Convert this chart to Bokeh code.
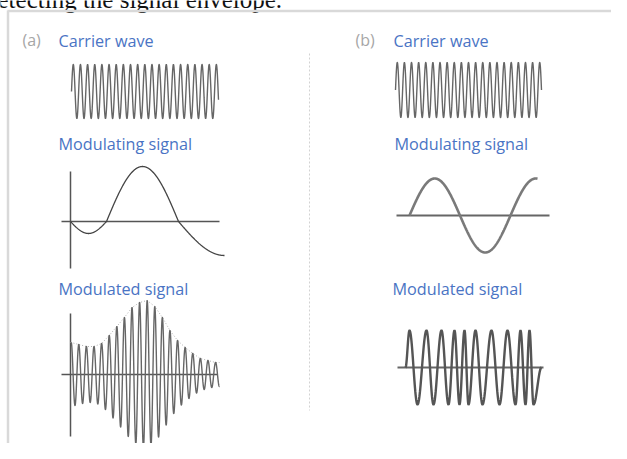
import numpy as np
from bokeh.plotting import figure
from bokeh.models import Range1d
from bokeh.core.properties import value
from bokeh.embed import file_html
from bokeh.resources import INLINE

# ---------------- data ----------------
header_text = "detecting the signal envelope."
panel_labels = ["(a)", "(b)"]
titles = ["Carrier wave", "Modulating signal", "Modulated signal"]

# carrier waves (number of cycles over the drawn span, amplitude in px)
carrier_cycles = [20.55, 20.5]
carrier_amp = [27, 27.5]

# modulating signal (a): zero crossings and half-wave amplitudes
mod_a_crossings = [70, 106, 178, 270]
mod_a_amps = [-12, 55, -34]
mod_a_end = 224

# modulated signal (a): envelope height at each carrier peak
env_a = [32, 30, 28, 28, 31, 39, 48, 57, 67, 72, 74, 68, 57, 44, 34, 27, 21, 16, 14, 12]
env_a_spacing = 7.6

# modulating signal (b): sine
mod_b_amp = 37
mod_b_period = 101

# modulated signal (b): FM extrema positions (peak, trough, peak, ...)
fm_extrema = [409, 417, 426, 433, 441, 448, 454, 459, 464, 468,
              475, 482, 491, 499, 507, 515, 520, 525, 529, 533]
fm_amp = 37

# ---------------- layout / styles ----------------
W, H = 611, 443
BLUE = "#4a74c4"
WAVE = "#666666"
AXIS = "#555555"
FONT = "Open Sans"

p = figure(width=W, height=H, output_backend="svg", toolbar_location=None,
           x_range=Range1d(0, W), y_range=Range1d(H, 0),
           min_border=0)
p.axis.visible = False
p.grid.visible = False
p.outline_line_color = None
p.background_fill_color = "white"

# header (cropped at the top)
p.text(x=[-15.5], y=[-1], text=[header_text], text_font=value("Liberation Serif"),
       text_font_size="25px", text_color="#111111", text_baseline="alphabetic")

# frame
p.line([7, W], [10.5, 10.5], line_color="#d9d9d9", line_width=2.5)
p.line([7.5, 7.5], [10, H], line_color="#d9d9d9", line_width=2.5)

# divider
p.line([309, 309], [53, 410], line_color="#d2d2d2", line_width=1, line_dash="2 2")

# texts
label_x = [22, 355]
title_x = [[58, 58, 58], [393, 394, 392]]
title_y = [40, 143, 288]
for i in range(2):
    p.text(x=[label_x[i]], y=[39], text=[panel_labels[i]], text_font=value(FONT),
           text_font_size="16px", text_color="#a6a6a6", text_baseline="middle")
    for j in range(3):
        p.text(x=[title_x[i][j]], y=[title_y[j]], text=[titles[j]],
               text_font=value(FONT), text_font_size="16.2px", text_color=BLUE,
               text_baseline="middle")

# carrier waves
carrier_span = [(71, 218, 91), (395, 541, 89.5)]
for i, (x0, x1, cy) in enumerate(carrier_span):
    xs = np.linspace(x0, x1, 2000)
    ph = (xs - x0) / (x1 - x0) * carrier_cycles[i] * 2 * np.pi
    p.line(xs, cy - carrier_amp[i] * np.sin(ph), line_color=WAVE, line_width=1.4)

# ---- (a) modulating signal
p.line([70, 70], [171, 268], line_color=AXIS, line_width=1.5)
p.line([61, 219], [221, 221], line_color=AXIS, line_width=1.5)
xs = np.linspace(mod_a_crossings[0], mod_a_end, 600)
ys = np.zeros_like(xs)
for k in range(len(mod_a_amps)):
    a, b = mod_a_crossings[k], mod_a_crossings[k + 1]
    m = (xs >= a) & (xs <= b)
    ys[m] = mod_a_amps[k] * np.sin(np.pi * (xs[m] - a) / (b - a))
p.line(xs, 221 - ys, line_color="#444444", line_width=1.3)

# ---- (a) modulated signal
p.line([70, 70], [313, 436], line_color=AXIS, line_width=1.5)
p.line([61, 217], [374, 374], line_color=AXIS, line_width=1.5)
peak_x = 70.7 + env_a_spacing * np.arange(len(env_a))
p.line(np.r_[70, peak_x, 219], 374 - np.r_[env_a[0], env_a, env_a[-1]],
       line_color="#b0b0b0", line_width=1, line_dash="1 2")
xs = np.linspace(70.7, 219, 3000)
env = np.interp(xs, peak_x, env_a)
p.line(xs, 374 - env * np.cos(2 * np.pi * (xs - 70.7) / env_a_spacing),
       line_color=WAVE, line_width=1.4)

# ---- (b) modulating signal
p.line([396, 549], [215, 215], line_color="#666666", line_width=2.2)
xs = np.linspace(409, 537, 500)
p.line(xs, 215 - mod_b_amp * np.sin(2 * np.pi * (xs - 409) / mod_b_period),
       line_color="#7a7a7a", line_width=2.6)

# ---- (b) modulated signal (FM)
p.line([397, 543], [367, 367], line_color="#666666", line_width=2.2)
ex = [405] + fm_extrema + [541]
ev = [0] + [fm_amp if k % 2 == 0 else -fm_amp for k in range(len(fm_extrema))] + [0]
fx, fy = [], []
for k in range(len(ex) - 1):
    t = np.linspace(0, 1, 30)
    fx.append(ex[k] + (ex[k + 1] - ex[k]) * t)
    fy.append(ev[k] + (ev[k + 1] - ev[k]) * (1 - np.cos(np.pi * t)) / 2)
p.line(np.concatenate(fx), 367 - np.concatenate(fy), line_color="#555555", line_width=2.4)

open("out.html", "w").write(file_html(p, INLINE))
